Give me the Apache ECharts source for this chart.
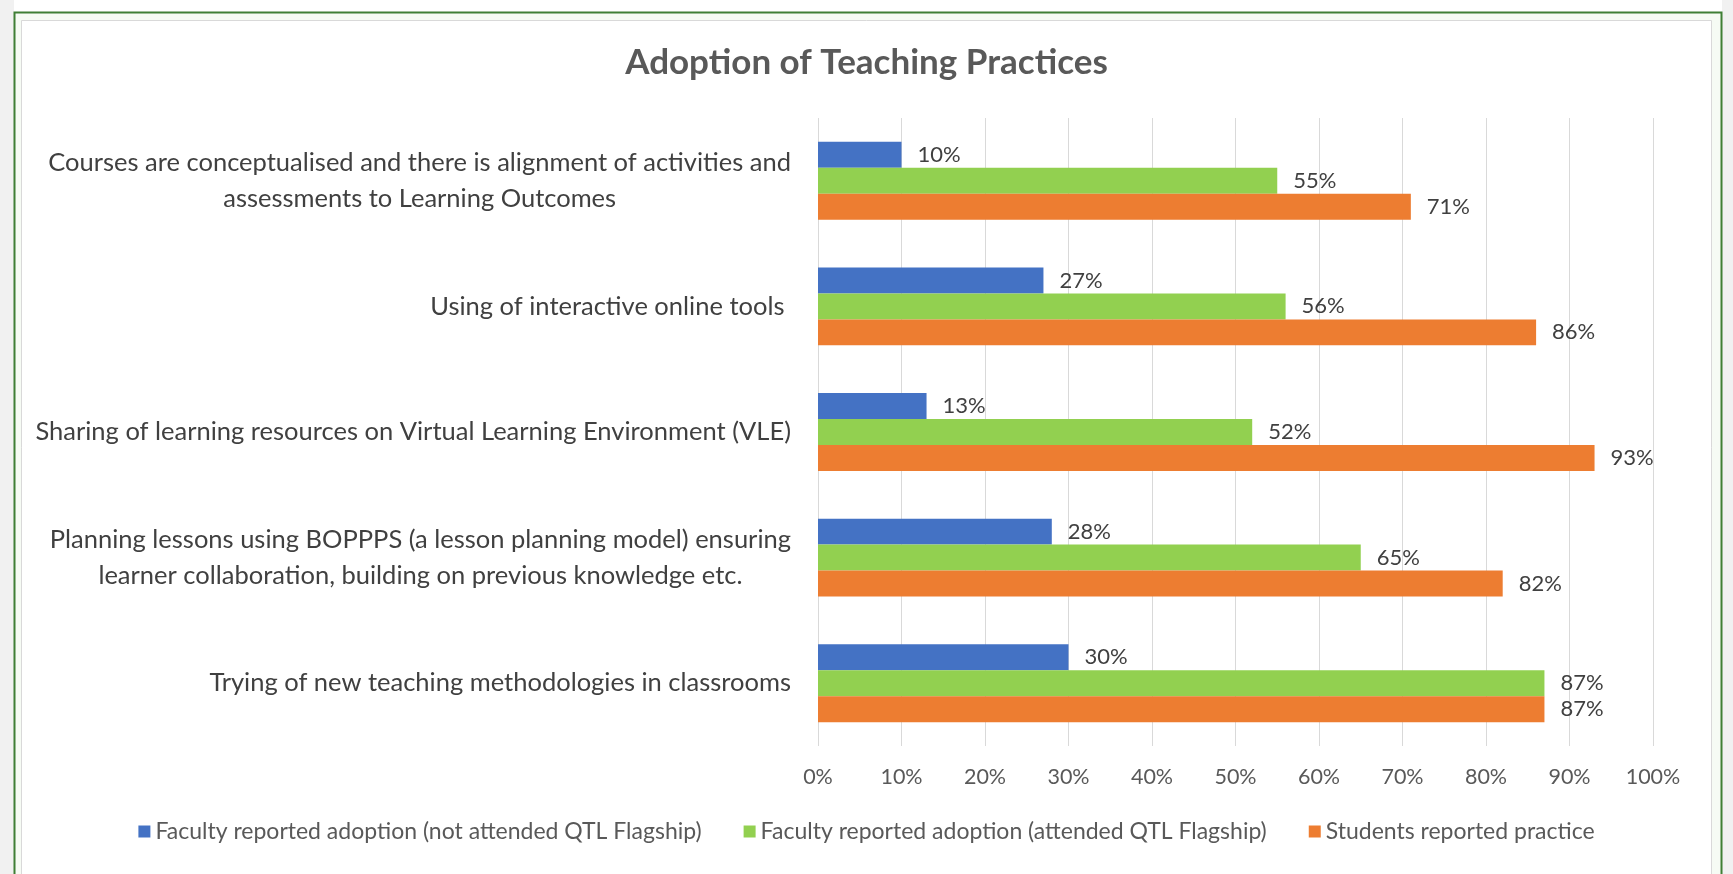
<!DOCTYPE html>
<html>
<head>
<meta charset="utf-8">
<script src="https://cdn.jsdelivr.net/npm/echarts@6/dist/echarts.min.js"></script>
<style>
html,body{margin:0;padding:0;background:#ffffff;}
#main{width:1733px;height:874px;}
</style>
</head>
<body>
<div id="main"></div>
<script>
const categories = [
  "Courses are conceptualised and there is alignment of activities and\nassessments to Learning Outcomes",
  "Using of interactive online tools ",
  "Sharing of learning resources on Virtual Learning Environment (VLE)",
  "Planning lessons using BOPPPS (a lesson planning model) ensuring\nlearner collaboration, building on previous knowledge etc.",
  "Trying of new teaching methodologies in classrooms"
];
const seriesNames = [
  "Faculty reported adoption (not attended QTL Flagship)",
  "Faculty reported adoption (attended QTL Flagship)",
  "Students reported practice"
];
const facultyNotAttended = [10, 27, 13, 28, 30];
const facultyAttended = [55, 56, 52, 65, 87];
const studentsPractice = [71, 86, 93, 82, 87];
const xTicks = [0, 10, 20, 30, 40, 50, 60, 70, 80, 90, 100];

const FONT = 'Lato';
const colors = ['#4472C4', '#92D050', '#ED7D31'];
const values = [facultyNotAttended, facultyAttended, studentsPractice];

const chart = echarts.init(document.getElementById('main'), null, {renderer: 'canvas'});
const option = {
  animation: false,
  backgroundColor: '#ffffff',
  textStyle: {fontFamily: FONT},
  graphic: [
    {type: 'rect', silent: true, z: -10, shape: {x: 0, y: 0, width: 14, height: 874}, style: {fill: '#f1f1f1'}},
    {type: 'rect', silent: true, z: -10, shape: {x: 1722, y: 0, width: 11, height: 874}, style: {fill: '#f1f1f1'}},
    {type: 'rect', silent: true, z: -9, shape: {x: 14.5, y: 12.5, width: 1707, height: 870}, style: {fill: '#f6fbf4', stroke: '#3f7f35', lineWidth: 2}},
    {type: 'rect', silent: true, z: -8, shape: {x: 21.5, y: 20.5, width: 1690, height: 860}, style: {fill: '#ffffff', stroke: '#d9d9d9', lineWidth: 1}}
  ],
  title: {
    text: 'Adoption of Teaching Practices',
    left: 'center',
    top: 40,
    textStyle: {fontFamily: FONT, fontSize: 35, fontWeight: 'bold', color: '#595959'}
  },
  legend: {
    data: seriesNames,
    bottom: 26,
    left: 'center',
    icon: 'rect',
    itemWidth: 12,
    itemHeight: 12,
    itemGap: 42,
    textStyle: {fontFamily: FONT, fontSize: 23, color: '#595959'}
  },
  grid: {left: 818, right: 80, top: 118, height: 628, containLabel: false},
  xAxis: {
    type: 'value',
    min: 0,
    max: 100,
    interval: 10,
    axisLine: {show: false},
    axisTick: {show: false},
    splitLine: {show: true, lineStyle: {color: '#d9d9d9', width: 1}},
    axisLabel: {
      fontFamily: FONT, fontSize: 21.5, color: '#595959', margin: 20,
      formatter: v => xTicks.includes(v) ? v + '%' : ''
    }
  },
  yAxis: {
    type: 'category',
    inverse: true,
    data: categories,
    axisLine: {show: false},
    axisTick: {show: false},
    axisLabel: {
      margin: 27,
      formatter: v => v.split('\n').map(l => '{c|' + l + '}').join('\n'),
      rich: {c: {align: 'center', fontFamily: FONT, fontSize: 25.5, color: '#404040', lineHeight: 36}}
    }
  },
  series: seriesNames.map((name, i) => ({
    name: name,
    type: 'bar',
    data: values[i],
    barGap: '0%',
    barCategoryGap: '38%',
    itemStyle: {color: colors[i]},
    label: {
      show: true,
      position: 'right',
      distance: 16,
      formatter: '{c}%',
      fontFamily: FONT,
      fontSize: 22,
      color: '#404040'
    }
  }))
};
chart.setOption(option);
</script>
</body>
</html>
